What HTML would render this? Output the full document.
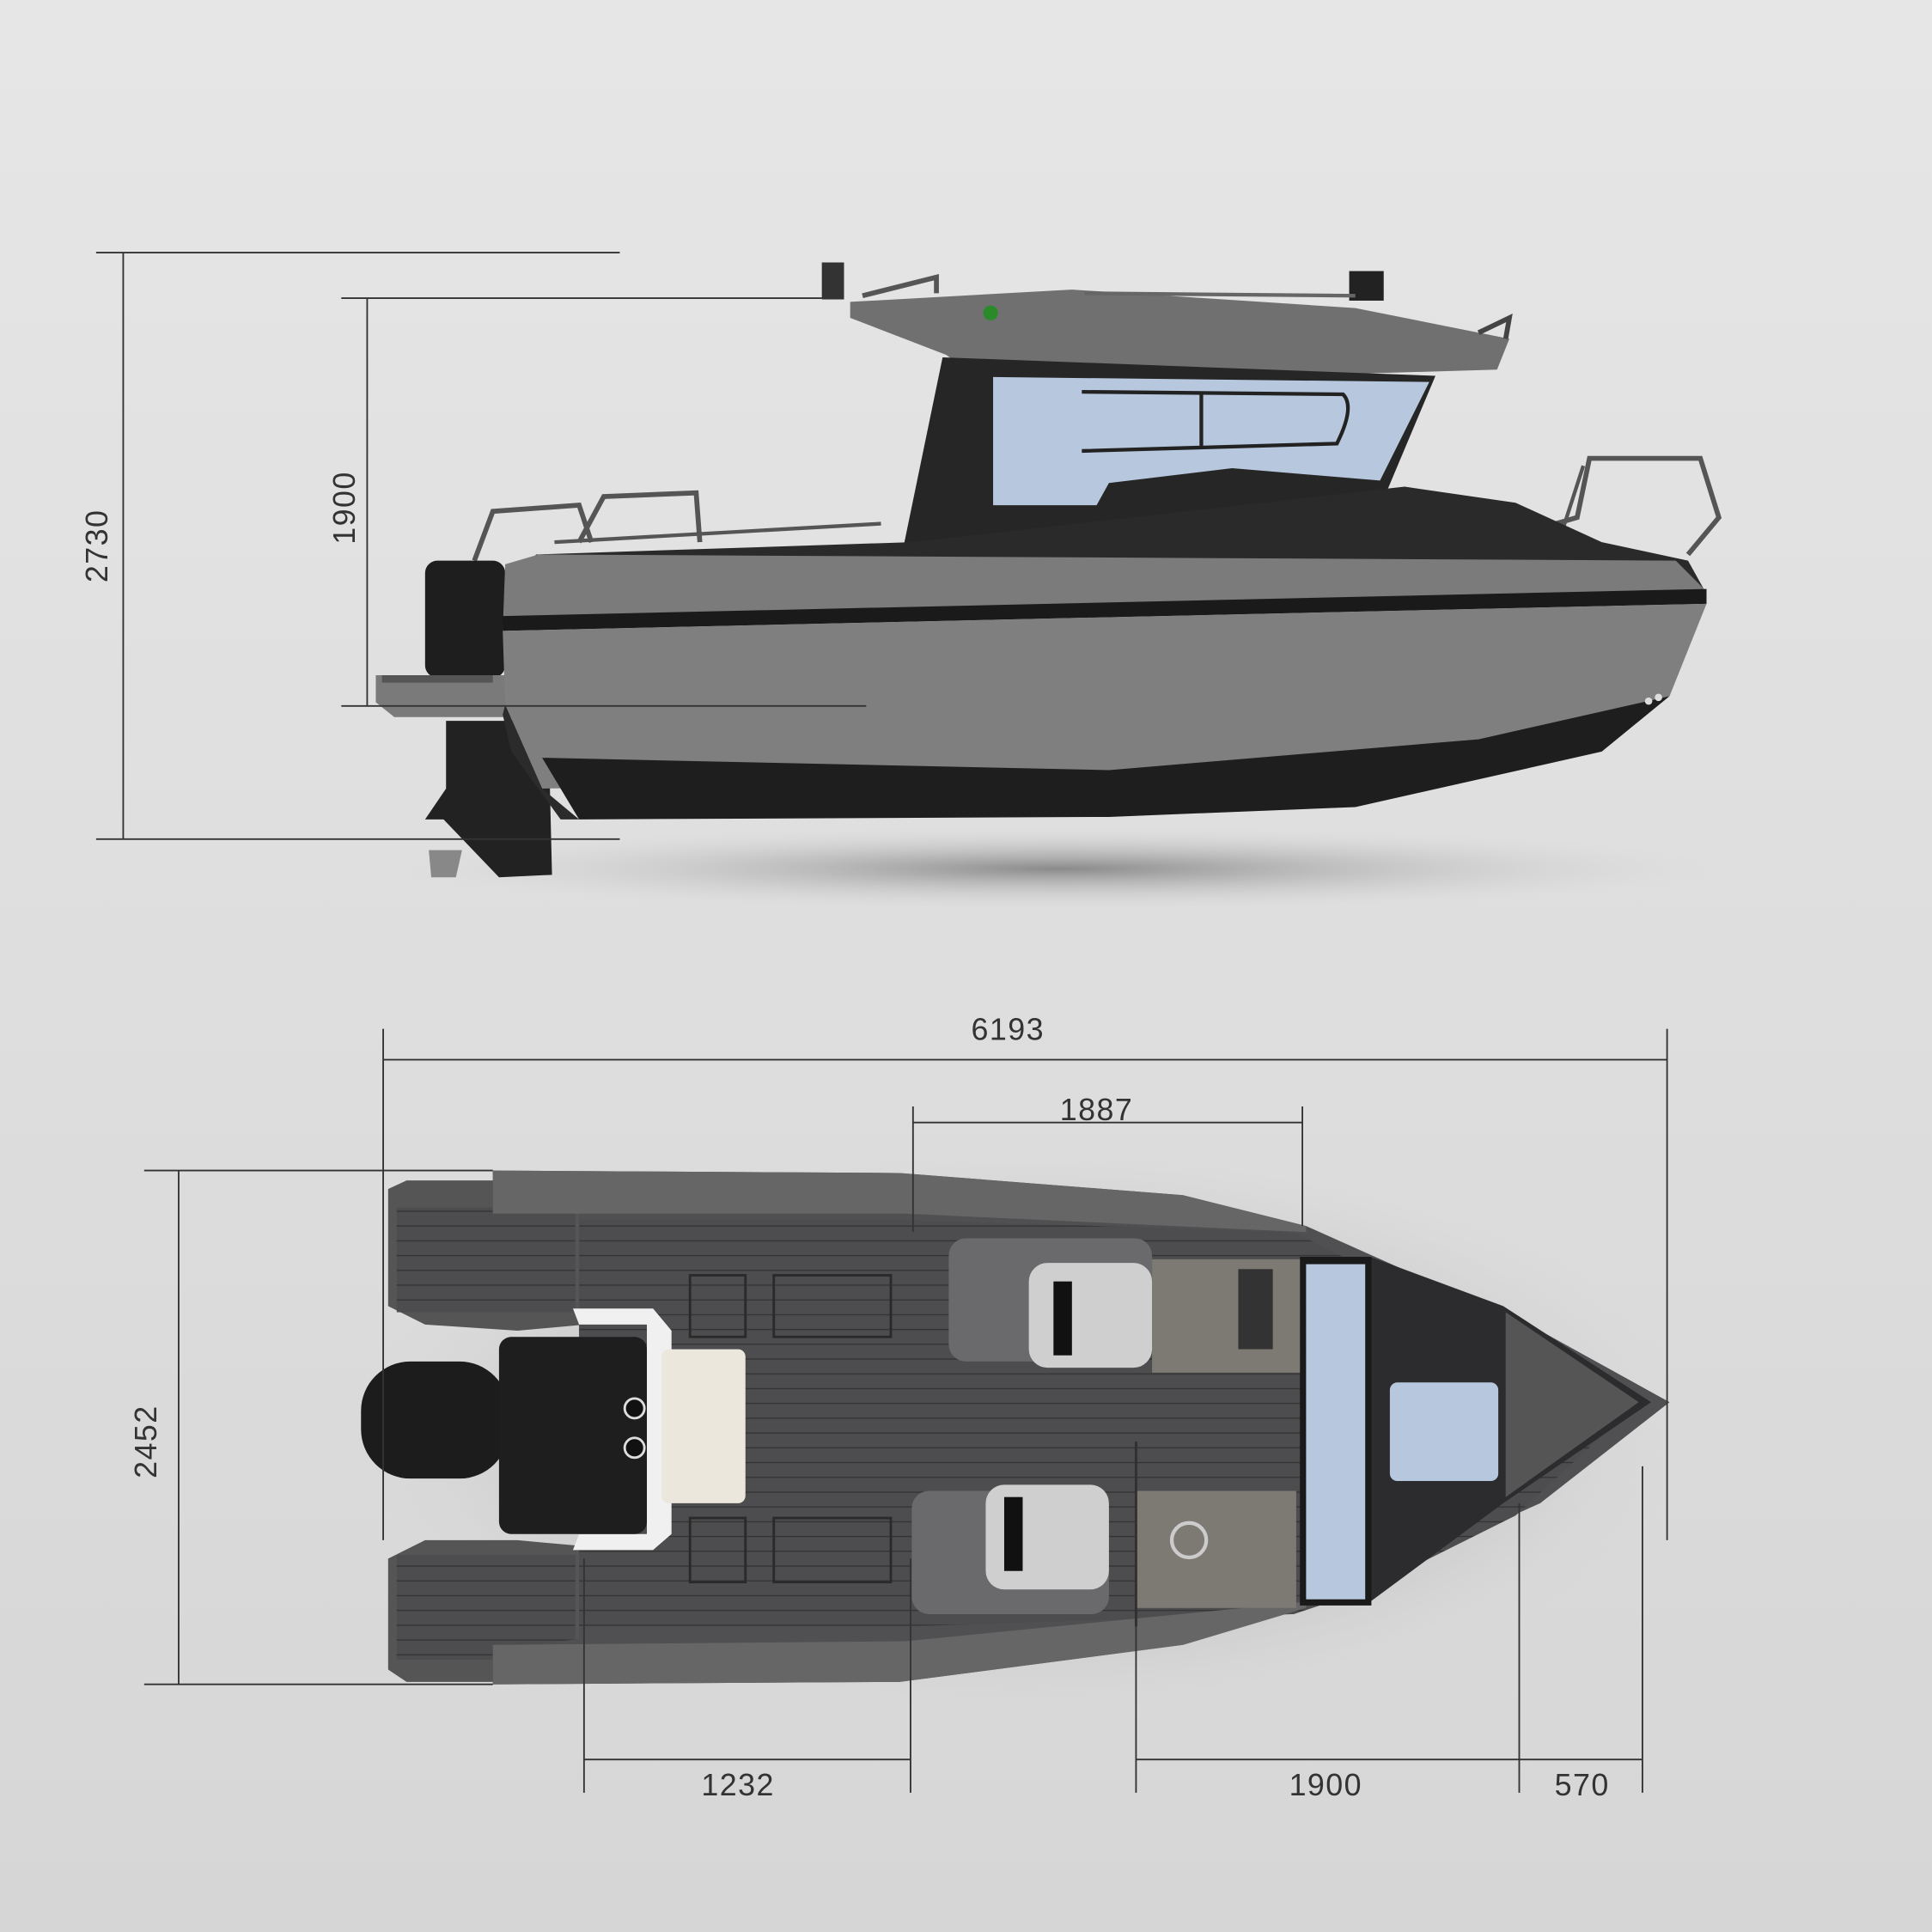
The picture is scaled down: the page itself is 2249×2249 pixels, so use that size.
<!DOCTYPE html>
<html><head><meta charset="utf-8">
<style>
html,body{margin:0;padding:0;background:#dedede;}
svg{display:block;}
text{font-family:"Liberation Sans",sans-serif;fill:#333;font-size:25px;letter-spacing:1px;}
</style></head>
<body>
<svg width="2249" height="2249" viewBox="0 0 1568 1568" xmlns="http://www.w3.org/2000/svg">
<defs>
<linearGradient id="bg" x1="0" y1="0" x2="0" y2="1">
<stop offset="0" stop-color="#e6e6e6"/><stop offset="1" stop-color="#d6d6d6"/></linearGradient>
<radialGradient id="sh" cx="0.5" cy="0.5" r="0.5">
<stop offset="0" stop-color="#8a8a8a"/><stop offset="1" stop-color="#dcdcdc" stop-opacity="0"/></radialGradient>
<radialGradient id="sh2" cx="0.5" cy="0.5" r="0.5">
<stop offset="0.6" stop-color="#b0b0b0"/><stop offset="1" stop-color="#dcdcdc" stop-opacity="0"/></radialGradient>
<pattern id="teak" width="12" height="12" patternUnits="userSpaceOnUse">
<rect width="12" height="12" fill="#4d4d4f"/><line x1="0" y1="11" x2="12" y2="11" stroke="#333" stroke-width="1"/></pattern>
</defs>
<rect width="1568" height="1568" fill="url(#bg)"/>

<!-- SIDE VIEW -->
<ellipse cx="860" cy="705" rx="560" ry="35" fill="url(#sh)"/>
<!-- roof -->
<polygon points="690,245 870,235 1100,250 1225,275 1215,300 800,312 768,288 690,258" fill="#707070"/>
<rect x="667" y="213" width="18" height="30" fill="#333"/>
<rect x="1095" y="220" width="28" height="24" fill="#222"/>
<circle cx="804" cy="254" r="6" fill="#2a8a2a"/>
<polyline points="700,240 760,225 760,238" fill="none" stroke="#555" stroke-width="4"/>
<polyline points="880,238 1100,240" fill="none" stroke="#666" stroke-width="3"/>
<polyline points="1200,270 1225,258 1222,275" fill="none" stroke="#444" stroke-width="4"/>
<!-- cabin -->
<polygon points="733,445 765,290 1165,305 1125,400 1135,445" fill="#262626"/>
<polygon points="806,306 1160,310 1120,390 1000,380 900,392 890,410 806,410" fill="#b7c8de"/>
<path d="M878,318 L1090,320 Q1100,330 1085,360 L878,366" fill="none" stroke="#222" stroke-width="3"/>
<line x1="975" y1="320" x2="975" y2="364" stroke="#222" stroke-width="3"/>
<!-- railings -->
<polyline points="385,455 400,415 470,410 480,440" fill="none" stroke="#555" stroke-width="4"/>
<polyline points="470,440 490,403 565,400 568,440" fill="none" stroke="#555" stroke-width="4"/>
<polyline points="450,440 715,425" fill="none" stroke="#555" stroke-width="3"/>
<polyline points="1135,462 1280,420 1290,372 1380,372 1395,420 1370,450" fill="none" stroke="#555" stroke-width="4"/>
<polyline points="1265,440 1285,378" fill="none" stroke="#555" stroke-width="3"/>
<!-- deck dark -->
<polygon points="435,450 740,440 1140,395 1230,408 1300,440 1370,455 1385,482 408,500" fill="#2a2a2a"/>
<!-- outboard -->
<rect x="345" y="455" width="65" height="95" rx="10" fill="#1e1e1e"/>
<polygon points="362,585 445,585 448,710 405,712 360,665 345,665 362,640" fill="#222"/>
<polygon points="348,690 375,690 370,712 350,712" fill="#888"/>
<!-- platform -->
<polygon points="305,548 415,548 415,582 320,582 305,570" fill="#7a7a7a"/>
<rect x="310" y="548" width="90" height="6" fill="#555"/>
<!-- hull upper -->
<polygon points="410,458 437,450 1360,455 1385,480 1385,490 408,512" fill="#7b7b7b"/>
<polygon points="408,500 1385,478 1385,490 408,512" fill="#1a1a1a"/>
<polygon points="408,512 1385,490 1355,565 1200,605 900,635 440,640 410,572" fill="#7f7f7f"/>
<polygon points="440,615 900,625 1200,600 1355,565 1300,610 1100,655 900,663 470,665" fill="#1e1e1e"/>
<polygon points="410,572 440,640 470,665 455,665 415,610 408,580" fill="#2b2b2b"/>
<circle cx="1346" cy="566" r="3" fill="#ddd"/><circle cx="1338" cy="569" r="3" fill="#ddd"/>

<!-- side dimension lines -->
<g stroke="#333" stroke-width="1.3" fill="none">
<line x1="78" y1="205" x2="503" y2="205"/>
<line x1="78" y1="681" x2="503" y2="681"/>
<line x1="100" y1="205" x2="100" y2="681"/>
<line x1="277" y1="242" x2="680" y2="242"/>
<line x1="277" y1="573" x2="703" y2="573"/>
<line x1="298" y1="242" x2="298" y2="573"/>
</g>
<text x="87" y="443" transform="rotate(-90 87 443)" text-anchor="middle">2730</text>
<text x="288" y="412" transform="rotate(-90 288 412)" text-anchor="middle">1900</text>

<!-- TOP VIEW -->
<ellipse cx="830" cy="1160" rx="560" ry="240" fill="url(#sh2)" opacity="0.5"/>
<!-- engine -->
<rect x="293" y="1105" width="120" height="95" rx="40" fill="#1c1c1c"/>
<!-- tail platforms -->
<polygon points="315,965 330,958 475,958 475,1075 420,1080 345,1075 315,1060" fill="#555"/>
<polygon points="315,1265 345,1250 420,1250 475,1255 475,1365 330,1365 315,1355" fill="#555"/>
<rect x="322" y="980" width="145" height="85" fill="url(#teak)"/>
<rect x="322" y="1262" width="145" height="85" fill="url(#teak)"/>
<!-- hull -->
<polygon points="400,950 730,952 960,970 1060,995 1250,1080 1355,1138 1250,1220 1060,1305 960,1335 730,1365 400,1367 400,1340 470,1330 470,985 400,980" fill="#505052"/>
<polygon points="470,990 735,990 1050,1000 1110,1030 1230,1080 1330,1138 1230,1230 1110,1290 1050,1310 735,1320 470,1320" fill="url(#teak)"/>
<!-- side gunwale -->
<polygon points="400,950 730,952 960,970 1060,995 1060,1000 735,985 400,985" fill="#666"/>
<polygon points="400,1367 730,1365 960,1335 1060,1305 1060,1300 735,1332 400,1335" fill="#666"/>
<!-- bow -->
<polygon points="1112,1020 1220,1060 1340,1138 1220,1220 1112,1300" fill="#2c2c2e"/>
<polygon points="1222,1065 1330,1138 1222,1215" fill="#555"/>
<rect x="1128" y="1122" width="88" height="80" rx="6" fill="#b7c8de"/>
<!-- windshield -->
<rect x="1055" y="1020" width="58" height="283" fill="#1a1a1a"/>
<rect x="1060" y="1026" width="48" height="272" fill="#b7c8de"/>
<!-- consoles -->
<rect x="935" y="1022" width="120" height="92" fill="#7d7a74"/>
<rect x="1005" y="1030" width="28" height="65" fill="#333"/>
<rect x="922" y="1210" width="130" height="95" fill="#7d7a74"/>
<circle cx="965" cy="1250" r="14" fill="none" stroke="#ccc" stroke-width="3"/>
<!-- seats -->
<rect x="770" y="1005" width="165" height="100" rx="14" fill="#6a6a6c"/>
<rect x="835" y="1025" width="100" height="85" rx="15" fill="#cfcfcf"/>
<rect x="855" y="1040" width="15" height="60" fill="#111"/>
<rect x="740" y="1210" width="160" height="100" rx="14" fill="#6a6a6c"/>
<rect x="800" y="1205" width="100" height="85" rx="15" fill="#cfcfcf"/>
<rect x="815" y="1215" width="15" height="60" fill="#111"/>
<!-- engine cover -->
<polygon points="465,1062 530,1062 545,1080 545,1245 530,1258 465,1258 470,1245 525,1245 525,1075 470,1075" fill="#f0f0f0"/>
<rect x="405" y="1085" width="120" height="160" rx="10" fill="#1e1e1e"/>
<circle cx="515" cy="1143" r="8" fill="#111" stroke="#ddd" stroke-width="2"/>
<circle cx="515" cy="1175" r="8" fill="#111" stroke="#ddd" stroke-width="2"/>
<rect x="537" y="1095" width="68" height="125" rx="6" fill="#ebe7dd"/>
<!-- hatches -->
<g fill="none" stroke="#2a2a2a" stroke-width="2">
<rect x="628" y="1035" width="95" height="50"/><rect x="560" y="1035" width="45" height="50"/>
<rect x="628" y="1232" width="95" height="52"/><rect x="560" y="1232" width="45" height="52"/>
<line x1="922" y1="1170" x2="922" y2="1320"/>
</g>

<!-- top dimension lines -->
<g stroke="#333" stroke-width="1.3" fill="none">
<line x1="311" y1="860" x2="1353" y2="860"/>
<line x1="311" y1="835" x2="311" y2="1250"/>
<line x1="1353" y1="835" x2="1353" y2="1250"/>
<line x1="741" y1="911" x2="1057" y2="911"/>
<line x1="741" y1="898" x2="741" y2="1000"/>
<line x1="1057" y1="898" x2="1057" y2="995"/>
<line x1="117" y1="950" x2="400" y2="950"/>
<line x1="117" y1="1367" x2="400" y2="1367"/>
<line x1="145" y1="950" x2="145" y2="1367"/>
<line x1="474" y1="1428" x2="739" y2="1428"/>
<line x1="922" y1="1428" x2="1333" y2="1428"/>
<line x1="474" y1="1265" x2="474" y2="1455"/>
<line x1="739" y1="1265" x2="739" y2="1455"/>
<line x1="922" y1="1170" x2="922" y2="1455"/>
<line x1="1233" y1="1220" x2="1233" y2="1455"/>
<line x1="1333" y1="1190" x2="1333" y2="1455"/>
</g>
<text x="818" y="844" text-anchor="middle">6193</text>
<text x="890" y="909" text-anchor="middle">1887</text>
<text x="127" y="1170" transform="rotate(-90 127 1170)" text-anchor="middle">2452</text>
<text x="599" y="1457" text-anchor="middle">1232</text>
<text x="1076" y="1457" text-anchor="middle">1900</text>
<text x="1284" y="1457" text-anchor="middle">570</text>
</svg>
</body></html>
